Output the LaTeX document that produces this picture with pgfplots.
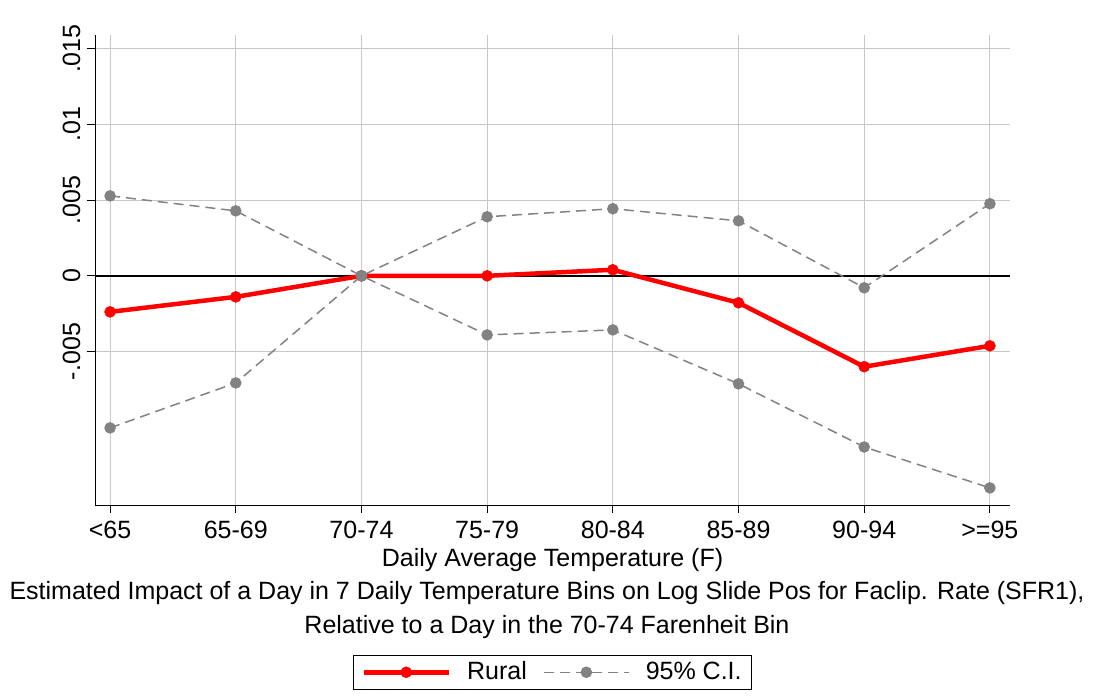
\documentclass[border=0pt]{standalone}
\usepackage{pgfplots}
\pgfplotsset{compat=1.18}
\usepackage{fontspec}
\setmainfont{Liberation Sans}
\definecolor{cig}{RGB}{130,130,130}
\definecolor{grd}{RGB}{200,200,200}
\begin{document}
\fontsize{25}{29}\selectfont
\begin{tikzpicture}[x=1pt,y=1pt]
\useasboundingbox (-95,-195) rectangle (1005,505);
\begin{axis}[at={(0,0)},anchor=south west,
  scale only axis, width=915pt, height=470pt,
  xmin=-0.12, xmax=7.16, ymin=-0.01513, ymax=0.0159,
  axis x line*=bottom, axis y line*=left,
  xtick={0,...,7}, xticklabels={<65,65-69,70-74,75-79,80-84,85-89,90-94,>=95},
  ytick={-0.005,0,0.005,0.01,0.015}, yticklabels={-.005,0,.005,.01,.015},
  scaled y ticks=false,
  yticklabel style={rotate=90,anchor=south,yshift=-2pt},
  tick align=outside, tick style={black,line width=0.8pt}, major tick length=8pt,
  grid=major, grid style={grd,line width=0.8pt},
  ticklabel style={font=\fontsize{25}{29}\selectfont},
  /pgf/number format/assume math mode=true,
  xlabel={Daily Average Temperature (F)},
  xlabel style={font=\fontsize{25}{29}\selectfont, at={(axis description cs:0.5,0)},anchor=north, yshift=-35pt},
  legend columns=2,
  legend style={at={(axis description cs:0.5,-0.319)},anchor=north,draw=black,line width=0.8pt,
    font=\fontsize{25}{29}\selectfont, column sep=14pt, inner xsep=8pt, inner ysep=4pt},
  legend image code/.code={\draw[#1] (0,0) -- (3.0cm,0); \draw[#1,solid] plot coordinates {(1.5cm,0)};},
  clip=false,
]
\draw[black,line width=1.8pt] (axis cs:-0.12,0) -- (axis cs:7.16,0);
\addplot[red,line width=4.5pt,mark=*,mark size=5.5pt,mark options={line width=0.5pt}] coordinates {
(0,-0.00238)(1,-0.00139)(2,0)(3,0)(4,0.0004)(5,-0.00178)(6,-0.0060)(7,-0.00462)};
\addlegendentry{Rural}
\addplot[cig,line width=1.5pt,dashed,dash pattern=on 10pt off 6pt,mark=*,mark size=5pt,mark options={solid}] coordinates {
(0,0.00528)(1,0.00429)(2,0)(3,0.0039)(4,0.00443)(5,0.00363)(6,-0.00079)(7,0.00476)};
\addlegendentry{95\% C.I.}
\addplot[cig,line width=1.5pt,dashed,dash pattern=on 10pt off 6pt,mark=*,mark size=5pt,mark options={solid},forget plot] coordinates {
(0,-0.01004)(1,-0.00707)(2,0)(3,-0.0039)(4,-0.00357)(5,-0.00713)(6,-0.0113)(7,-0.0140)};
\end{axis}
\node[align=center,font=\fontsize{25}{29}\selectfont] at (452,-105) {Estimated Impact of a Day in 7 Daily Temperature Bins on Log Slide Pos for Faclip. Rate (SFR1),\\[5pt] Relative to a Day in the 70-74 Farenheit Bin};
\end{tikzpicture}
\end{document}
